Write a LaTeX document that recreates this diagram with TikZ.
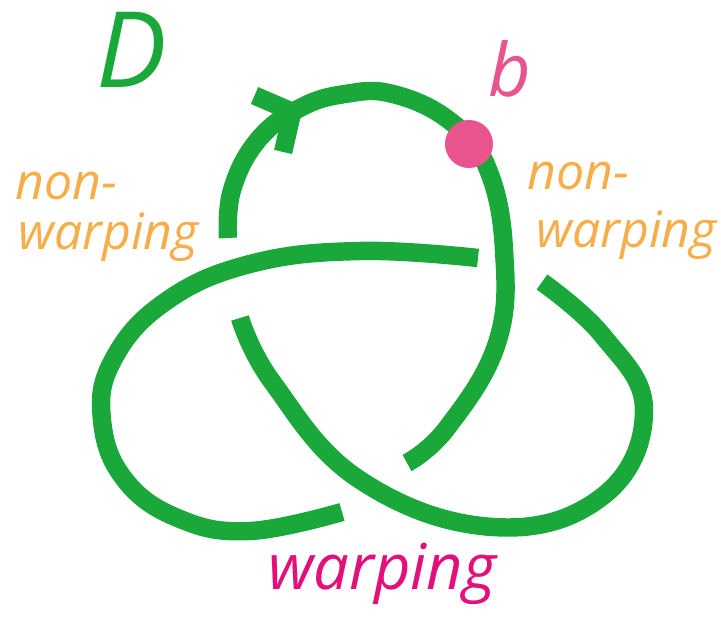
\documentclass[tikz,border=0pt]{standalone}
\usepackage{fontspec}
\setmainfont{Open Sans}
\usetikzlibrary{positioning,arrows.meta,decorations.markings}
\definecolor{KnotGreen}{RGB}{26,168,58}
\definecolor{WarpOrange}{RGB}{247,174,74}
\definecolor{DotPink}{RGB}{233,84,143}
\definecolor{WarpPink}{RGB}{228,16,122}
\tikzset{strand/.style={draw=KnotGreen,line width=10.5pt,line cap=butt}, bdot/.style={circle,fill=DotPink,inner sep=0pt,minimum size=0.96cm}, tag/.style={inner sep=0pt,anchor=base west,font=\itshape}, orient/.style={postaction={decorate},decoration={markings,mark=at position 0.228 with {\arrow{Straight Barb[length=15pt,width=36pt]}}}}}

\begin{document}
\begin{tikzpicture}[x=0.02cm,y=-0.02cm]
\useasboundingbox (0,0) rectangle (721,617);
\coordinate (a0) at (228,238);
\coordinate (a1) at (407,463);
\coordinate (b0) at (478,258);
\coordinate (b1) at (342,512);
\coordinate (c0) at (240,318);
\coordinate (c1) at (542,282);
\draw[strand,orient] plot[smooth,tension=0.7] coordinates {(a0) (232,190) (258,140) (300,108) (345,94) (393,94) (450,121) (487,167) (504,250) (497,343) (447,428) (a1)};
\draw[strand] plot[smooth,tension=0.7] coordinates {(b0) (360,251) (250,264) (165,302) (113,360) (102,420) (125,480) (180,519) (250,531) (b1)};
\draw[strand] plot[smooth,tension=0.7] coordinates {(c0) (273,383) (360,480) (493,527) (603,496) (644,410) (603,336) (c1)};
\node[bdot] (bpt) at (469,144) {};
\node[tag,text=KnotGreen] (dlab) at (96,88) {\fontsize{60}{60}\selectfont D};
\node[tag,text=DotPink] (blab) at (488,97) {\fontsize{42}{42}\selectfont b};
\node[tag,text=WarpOrange] (lnon) at (15,200) {\fontsize{28.5}{28.5}\selectfont non-};
\node[tag,text=WarpOrange] (lwarp) at (18,250) {\fontsize{28.5}{28.5}\selectfont warping};
\node[tag,text=WarpOrange] (rnon) at (527,190) {\fontsize{28.5}{28.5}\selectfont non-};
\node[tag,text=WarpOrange] (rwarp) at (536,248) {\fontsize{28.5}{28.5}\selectfont warping};
\node[tag,text=WarpPink] (bwarp) at (268,590) {\fontsize{36}{36}\selectfont warping};
\end{tikzpicture}
\end{document}
